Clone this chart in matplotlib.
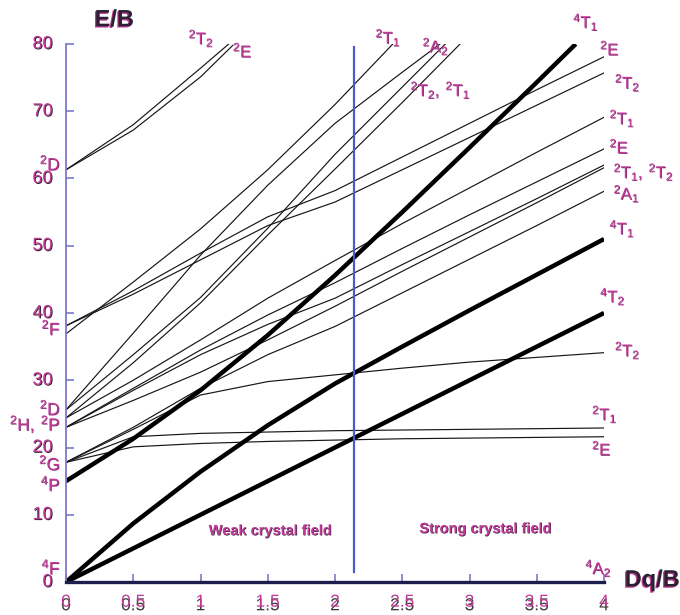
import matplotlib
matplotlib.use("Agg")
import matplotlib.pyplot as plt
import matplotlib.patheffects as pe

# Tanabe-Sugano diagram, d3 ion
dq = [0, 0.5, 1, 1.5, 2, 2.5, 3, 3.5, 4]

# quartet terms (thick lines)
q_4T2 = [0, 5, 10, 15, 20, 25, 30, 35, 40]
q_4T1F = [0, 8.7, 16.4, 23.3, 29.5, 35.0, 40.4, 45.7, 51.0]
dq_4T1P = [0, 0.5, 1, 1.5, 2, 2.5, 3, 3.5, 3.79]
q_4T1P = [15, 21.3, 28.5, 36.7, 45.6, 55.0, 64.6, 74.3, 80]

# doublets that run to Dq/B = 4
d_2E_a = [17.8, 20.1, 20.6, 20.9, 21.1, 21.3, 21.4, 21.5, 21.6]
d_2T1_a = [17.8, 21.6, 22.1, 22.3, 22.5, 22.6, 22.7, 22.8, 22.9]
d_2T2_a = [17.8, 22.7, 27.8, 29.8, 30.8, 31.8, 32.7, 33.4, 34.1]
d_2A1 = [17.8, 23.0, 28.8, 33.8, 38.0, 43.0, 48.0, 53.0, 58.1]
d_2T2_b = [23.0, 27.0, 31.2, 36.0, 41.0, 46.2, 51.3, 56.4, 61.6]
d_2T1_b = [23.0, 28.5, 33.8, 38.3, 42.2, 47.2, 52.1, 57.0, 62.0]
d_2E_b = [23.0, 28.8, 34.5, 39.7, 44.5, 49.6, 54.6, 59.5, 64.4]
d_2T1_c = [24.4, 30.0, 36.0, 42.2, 47.8, 53.3, 58.6, 63.9, 69.1]
d_2T2_c = [38.1, 42.8, 47.9, 53.0, 56.5, 61.3, 66.1, 70.9, 75.7]
d_2E_c = [38.1, 43.3, 48.9, 54.3, 58.2, 63.2, 68.2, 73.2, 78.1]

# doublets that leave through the top (E/B = 80)
dq_2T1_top = [0, 0.5, 1, 1.5, 2, 2.43]
d_2T1_top = [36.9, 44.6, 52.5, 61.3, 71.0, 80]
dq_2A2_top = [0, 0.5, 1, 1.5, 2, 2.5, 2.78]
d_2A2_top = [25.6, 37.0, 48.6, 59.0, 68.2, 75.8, 80]
dq_2T2_top = [0, 0.5, 1, 1.5, 2, 2.5, 2.82]
d_2T2_top = [25.6, 33.8, 42.3, 52.6, 63.6, 73.6, 80]
dq_2T1_top2 = [0, 0.5, 1, 1.5, 2, 2.5, 2.93]
d_2T1_top2 = [24.4, 32.6, 41.5, 51.6, 61.4, 71.3, 80]
dq_2D_T2 = [0, 0.5, 1, 1.21]
d_2D_T2 = [61.3, 68.0, 76.4, 80]
dq_2D_E = [0, 0.5, 1, 1.24]
d_2D_E = [61.3, 67.2, 75.1, 79.8]

x_ticks = [0, 0.5, 1, 1.5, 2, 2.5, 3, 3.5, 4]
x_labels = ["0", "0.5", "1", "1.5", "2", "2.5", "3", "3.5", "4"]
y_ticks = [0, 10, 20, 30, 40, 50, 60, 70, 80]
dq_split = 2.14

# free-ion terms on the left: (E/B, text)
free_ion = [(62.3, r"$\mathregular{^2D}$"), (37.8, r"$\mathregular{^2F}$"),
            (25.9, r"$\mathregular{^2D}$"), (23.5, r"$\mathregular{^2H,\,^2P}$"),
            (17.7, r"$\mathregular{^2G}$"), (14.6, r"$\mathregular{^4P}$"),
            (2.2, r"$\mathregular{^4F}$")]
# strong-field labels: (Dq/B, E/B, text)
field_terms = [(0.91, 80.9, r"$\mathregular{^2T_2}$"), (1.24, 79.1, r"$\mathregular{^2E}$"),
               (2.30, 81.0, r"$\mathregular{^2T_1}$"), (2.65, 79.7, r"$\mathregular{^2A_2}$"),
               (2.56, 73.2, r"$\mathregular{^2T_2,\,^2T_1}$"), (3.77, 83.3, r"$\mathregular{^4T_1}$"),
               (3.97, 79.4, r"$\mathregular{^2E}$"), (4.08, 74.3, r"$\mathregular{^2T_2}$"),
               (4.04, 69.0, r"$\mathregular{^2T_1}$"), (4.04, 64.8, r"$\mathregular{^2E}$"),
               (4.07, 61.0, r"$\mathregular{^2T_1,\,^2T_2}$"), (4.07, 57.8, r"$\mathregular{^2A_1}$"),
               (4.04, 52.6, r"$\mathregular{^4T_1}$"), (3.97, 42.5, r"$\mathregular{^4T_2}$"),
               (4.08, 34.5, r"$\mathregular{^2T_2}$"), (3.91, 25.0, r"$\mathregular{^2T_1}$"),
               (3.91, 19.9, r"$\mathregular{^2E}$"), (3.86, 2.1, r"$\mathregular{^4A_2}$")]

PINK = "#c23a98"
SHADE = "#7d2a6e"
DARK = "#2a2230"
AXIS = "#7c7ac8"

plt.rcParams["font.family"] = ["Liberation Sans", "DejaVu Sans"]

fig = plt.figure(figsize=(6.8, 6.15), dpi=100)
ax = fig.add_axes([66 / 680, 33 / 615, 538 / 680, 538 / 615])
ax.set_xlim(0, 4)
ax.set_ylim(0, 80)


def two_tone(x, y, s, size, top=PINK, under=SHADE, off=(0.5, -0.5), **kw):
    # the scan has every label printed twice, slightly shifted
    shadow = pe.withSimplePatchShadow(offset=off, shadow_rgbFace=under, alpha=1)
    ax.text(x, y, s, fontsize=size, color=top, clip_on=False,
            path_effects=[shadow], **kw)


thin = dict(color="#161616", lw=0.85)
thick = dict(color="black", lw=3.2, solid_capstyle="butt")

for ys in [d_2E_a, d_2T1_a, d_2T2_a, d_2A1, d_2T2_b, d_2T1_b, d_2E_b,
           d_2T1_c, d_2T2_c, d_2E_c]:
    ax.plot(dq, ys, **thin)
for xs, ys in [(dq_2T1_top, d_2T1_top), (dq_2A2_top, d_2A2_top),
               (dq_2T2_top, d_2T2_top), (dq_2T1_top2, d_2T1_top2),
               (dq_2D_T2, d_2D_T2), (dq_2D_E, d_2D_E)]:
    ax.plot(xs, ys, **thin)

ax.plot(dq, q_4T2, **thick)
ax.plot(dq, q_4T1F, **thick)
ax.plot(dq_4T1P, q_4T1P, **thick)

# boundary between weak and strong field
ax.plot([dq_split, dq_split], [1.5, 79.5], color="#4b5cc4", lw=1.6)

for s in ["top", "right"]:
    ax.spines[s].set_visible(False)
ax.spines["left"].set_color(AXIS)
ax.spines["left"].set_linewidth(1.3)
ax.spines["bottom"].set_color("#1e1e4e")
ax.spines["bottom"].set_linewidth(2.4)
ax.set_xticks(x_ticks)
ax.set_yticks(y_ticks)
ax.tick_params(direction="in", length=6, width=1.2, color=AXIS,
               labelbottom=False, labelleft=False)

for v, s in zip(x_ticks, x_labels):
    two_tone(v, -3.0, s, 12.5, top=PINK, under="#3a3a3a", off=(0, -2.6),
             ha="center", va="center")
for v in y_ticks:
    two_tone(-0.1, v, str(v), 13, top=PINK, under=DARK, off=(0.6, -0.6),
             ha="right", va="center")

for e, s in free_ion:
    two_tone(-0.04, e, s, 12.5, ha="right", va="center")
for x, e, s in field_terms:
    two_tone(x, e, s, 12, ha="left", va="center")

two_tone(0.36, 83.6, "E/B", 17, top=DARK, under=PINK, off=(-0.9, -0.9),
         ha="center", va="center", fontweight="bold")
two_tone(4.36, 0.3, "Dq/B", 17, top=DARK, under=PINK, off=(-0.9, -0.9),
         ha="center", va="center", fontweight="bold")
two_tone(1.52, 7.6, "Weak crystal field", 10.5, under=DARK, off=(0.4, -0.4),
         ha="center", va="center", fontweight="bold")
two_tone(3.12, 7.9, "Strong crystal field", 10.5, under=DARK, off=(0.4, -0.4),
         ha="center", va="center", fontweight="bold")

fig.savefig("out.png", dpi=100)
